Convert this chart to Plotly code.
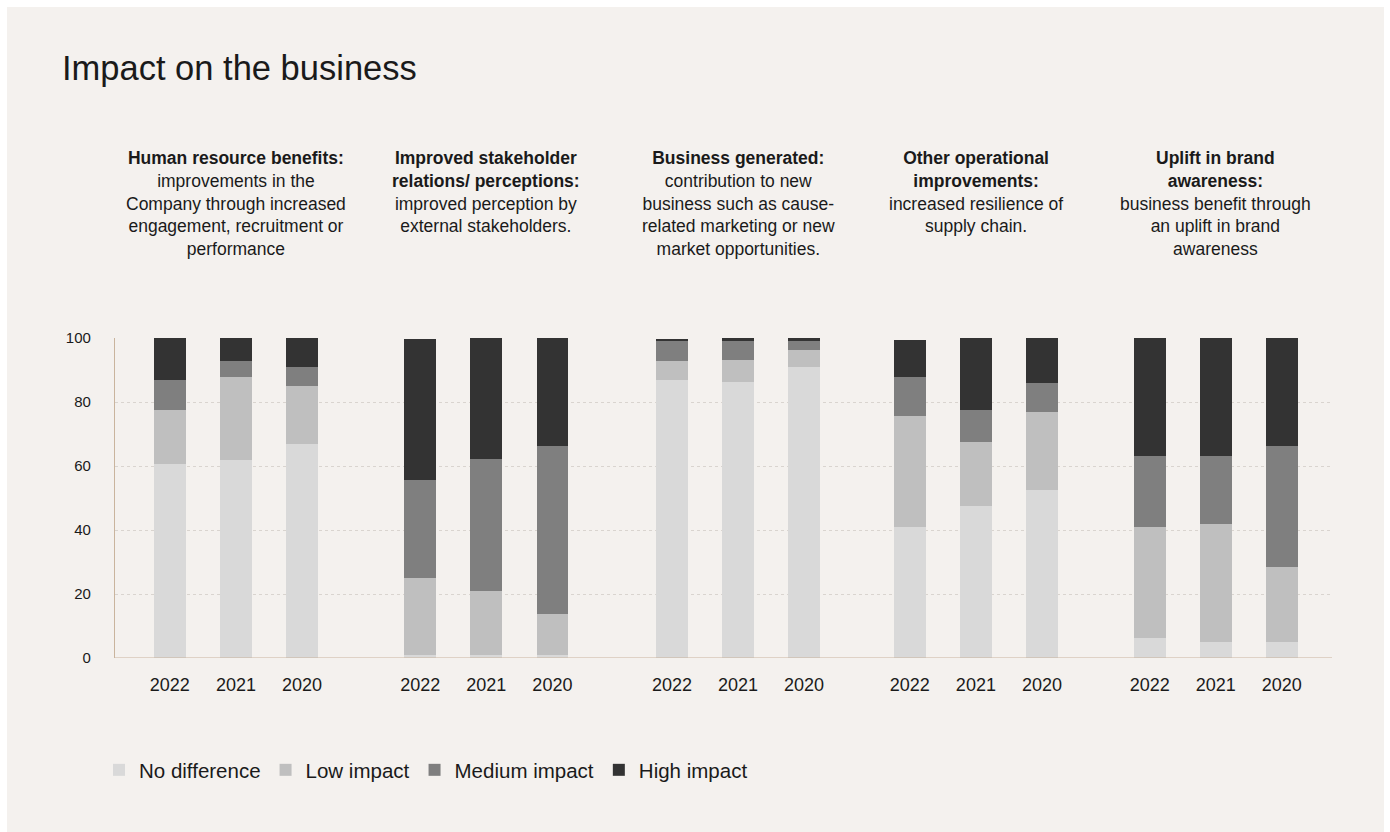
import plotly.graph_objects as go

# ---- data ----
groups = [
    "<b>Human resource benefits:</b><br>improvements in the<br>Company through increased<br>engagement, recruitment or<br>performance",
    "<b>Improved stakeholder<br>relations/ perceptions:</b><br>improved perception by<br>external stakeholders.",
    "<b>Business generated:</b><br>contribution to new<br>business such as cause-<br>related marketing or new<br>market opportunities.",
    "<b>Other operational<br>improvements:</b><br>increased resilience of<br>supply chain.",
    "<b>Uplift in brand<br>awareness:</b><br>business benefit through<br>an uplift in brand<br>awareness",
]
years = ["2022", "2021", "2020"]

# values per group, ordered 2022, 2021, 2020
no_difference = [[60.6, 61.8, 67.0], [1.0, 1.0, 1.0], [87.0, 86.1, 91.0], [40.9, 47.4, 52.6], [6.2, 5.0, 5.0]]
low_impact    = [[16.8, 26.0, 17.9], [24.0, 19.8, 12.9], [5.9, 7.1, 5.1], [34.8, 20.0, 24.3], [34.7, 36.9, 23.5]]
medium_impact = [[9.6, 5.1, 6.0], [30.7, 41.4, 52.2], [6.1, 5.8, 2.9], [12.1, 10.0, 9.0], [22.1, 21.1, 37.6]]
high_impact   = [[13.0, 7.1, 9.1], [44.1, 37.8, 33.9], [0.8, 1.0, 1.0], [11.7, 22.6, 14.1], [37.0, 37.0, 33.9]]

series_names = ["No difference", "Low impact", "Medium impact", "High impact"]
series_values = [no_difference, low_impact, medium_impact, high_impact]
series_colors = ["#d9d9d9", "#bfbfbf", "#7f7f7f", "#333333"]

FONT = "Liberation Sans, Arial, sans-serif"
GROUP_GAPS = [0.79, 0.81, 0.60, 0.63]  # extra empty space between consecutive groups (in bar slots)
n_years = len(years)

group_start = [0.0]
for g in GROUP_GAPS:
    group_start.append(group_start[-1] + n_years + g)

xpos, xlab = [], []
for gi in range(len(groups)):
    for yi in range(n_years):
        xpos.append(group_start[gi] + yi)
        xlab.append(years[yi])

fig = go.Figure()
for name, vals, col in zip(series_names, series_values, series_colors):
    flat = [v for grp in vals for v in grp]
    fig.add_trace(go.Bar(
        x=xpos, y=flat, name=name, width=0.48,
        marker=dict(color=col, line=dict(width=0)),
        hoverinfo="skip",
    ))

W, H = 1390, 832
L, R, T, B = 115, 58, 338, 174
pw, ph = W - L - R, H - T - B

def px_x(p):
    return (p - L) / pw

def px_y(p):
    return (H - B - p) / ph

fig.update_layout(
    width=W, height=H,
    margin=dict(l=L, r=R, t=T, b=B, pad=0),
    barmode="stack",
    bargap=0,
    paper_bgcolor="#ffffff",
    plot_bgcolor="rgba(0,0,0,0)",
    font=dict(family=FONT, color="#1a1a1a"),
    showlegend=True,
    legend=dict(
        orientation="h", x=px_x(99), xanchor="left", y=px_y(770), yanchor="middle",
        font=dict(size=20.5, color="#1a1a1a", family=FONT),
        traceorder="normal", itemwidth=30, bgcolor="rgba(0,0,0,0)",
    ),
    xaxis=dict(
        range=[-0.83, xpos[-1] + 0.76],
        tickvals=xpos, ticktext=xlab, showgrid=False, zeroline=False,
        showline=False, ticks="", tickfont=dict(size=18, color="#1a1a1a", family=FONT),
        ticklabelstandoff=14,
    ),
    yaxis=dict(
        range=[0, 100], tickvals=[0, 20, 40, 60, 80, 100], showgrid=True,
        gridcolor="#d9d4cf", griddash="dot", gridwidth=1, zeroline=False,
        showline=True, linecolor="#c9b49d", linewidth=1.2, ticks="",
        tickfont=dict(size=15, color="#1a1a1a", family=FONT), ticklabelstandoff=20,
    ),
    shapes=[
        dict(type="rect", xref="paper", yref="paper", layer="below",
             x0=px_x(7), x1=px_x(1384), y0=px_y(832), y1=px_y(7),
             fillcolor="#f4f1ee", line=dict(width=0)),
        dict(type="line", xref="paper", yref="y", layer="above",
             x0=0, x1=1, y0=0, y1=0, line=dict(color="#c9b49d", width=1.2)),
    ],
)

annotations = [dict(
    text="Impact on the business", xref="paper", yref="paper",
    x=px_x(60), y=px_y(68), xanchor="left", yanchor="middle", showarrow=False,
    font=dict(size=34.5, color="#1a1a1a", family=FONT),
)]
for gi, g in enumerate(groups):
    annotations.append(dict(
        text=g, xref="x", yref="paper", x=group_start[gi] + 1,
        y=px_y(146), xanchor="center", yanchor="top", align="center", showarrow=False,
        font=dict(size=17.5, color="#1a1a1a", family=FONT),
    ))
fig.update_layout(annotations=annotations)

fig.write_html("out.html")
